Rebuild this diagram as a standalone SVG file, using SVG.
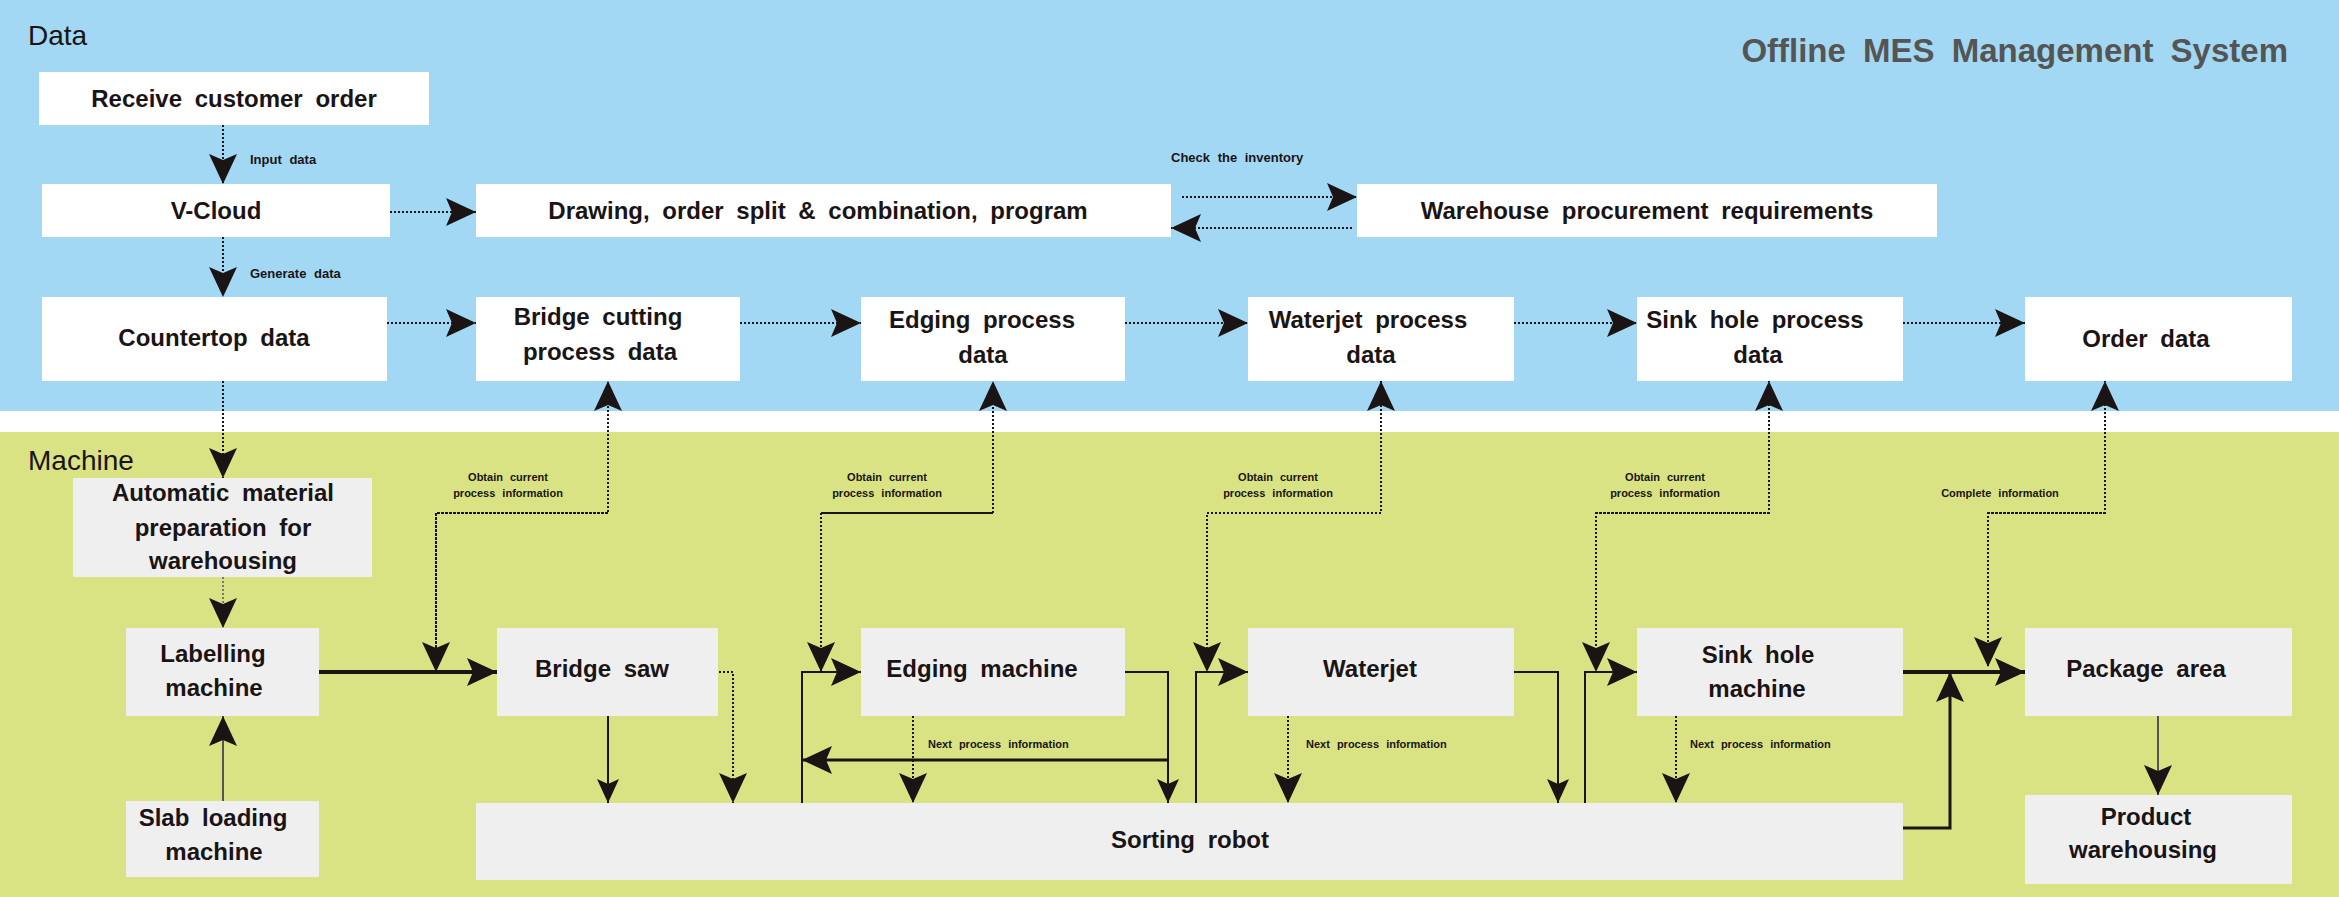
<svg xmlns="http://www.w3.org/2000/svg" width="2339" height="897" viewBox="0 0 2339 897">
<style>
.d{fill:#fff}.m{fill:#efefef}
text{font-family:"Liberation Sans",Arial,sans-serif;fill:#1a1414}
.t{font-size:24px;font-weight:bold;text-anchor:middle;word-spacing:6px}
.s{font-size:13px;font-weight:bold;word-spacing:4px}
.xs{font-size:11px;font-weight:bold;text-anchor:middle;word-spacing:4px}
.dot{fill:none;stroke:#1a1414;stroke-width:2;stroke-dasharray:2 2}
.sol{fill:none;stroke:#1a1414;stroke-width:2}
.thk{fill:none;stroke:#1a1414;stroke-width:4}
.gr{fill:none;stroke:#555;stroke-width:2}
</style>
<defs>
<marker id="a" markerUnits="userSpaceOnUse" markerWidth="30" markerHeight="28" refX="30" refY="14" orient="auto"><path d="M0,0L30,14L0,28L6,14Z" fill="#1a1414"/></marker>
<marker id="b" markerUnits="userSpaceOnUse" markerWidth="24" markerHeight="22" refX="24" refY="11" orient="auto"><path d="M0,0L24,11L0,22L5,11Z" fill="#1a1414"/></marker>
</defs>
<rect x="0" y="0" width="2339" height="411" fill="#a2d8f4"/>
<rect x="0" y="432" width="2339" height="465" fill="#d9e383"/>
<text x="28" y="45" style="font-size:28px">Data</text>
<text x="28" y="470" style="font-size:28px">Machine</text>
<text x="2288" y="62" style="font-size:33px;font-weight:bold;fill:#555;text-anchor:end;word-spacing:8px">Offline MES Management System</text>

<g id="receive"><rect class="d" x="39" y="72" width="390" height="53"/><text class="t" x="234" y="107">Receive customer order</text></g>
<g id="vcloud"><rect class="d" x="42" y="184" width="348" height="53"/><text class="t" x="216" y="219">V-Cloud</text></g>
<g id="drawing"><rect class="d" x="476" y="184" width="695" height="53"/><text class="t" x="818" y="219">Drawing, order split &amp; combination, program</text></g>
<g id="warehouse"><rect class="d" x="1357" y="184" width="580" height="53"/><text class="t" x="1647" y="219">Warehouse procurement requirements</text></g>
<g id="countertop"><rect class="d" x="42" y="297" width="345" height="84"/><text class="t" x="214" y="346">Countertop data</text></g>
<g id="bridgedata"><rect class="d" x="476" y="297" width="264" height="84"/><text class="t" x="598" y="325">Bridge cutting</text><text class="t" x="600" y="360">process data</text></g>
<g id="edgingdata"><rect class="d" x="861" y="297" width="264" height="84"/><text class="t" x="982" y="328">Edging process</text><text class="t" x="983" y="363">data</text></g>
<g id="waterjetdata"><rect class="d" x="1248" y="297" width="266" height="84"/><text class="t" x="1368" y="328">Waterjet process</text><text class="t" x="1371" y="363">data</text></g>
<g id="sinkdata"><rect class="d" x="1637" y="297" width="266" height="84"/><text class="t" x="1755" y="328">Sink hole process</text><text class="t" x="1758" y="363">data</text></g>
<g id="orderdata"><rect class="d" x="2025" y="297" width="267" height="84"/><text class="t" x="2146" y="347">Order data</text></g>

<g id="automatic"><rect class="m" x="73" y="478" width="299" height="99"/><text class="t" x="223" y="501">Automatic material</text><text class="t" x="223" y="536">preparation for</text><text class="t" x="223" y="569">warehousing</text></g>
<g id="labelling"><rect class="m" x="126" y="628" width="193" height="88"/><text class="t" x="213" y="662">Labelling</text><text class="t" x="214" y="696">machine</text></g>
<g id="slab"><rect class="m" x="126" y="801" width="193" height="76"/><text class="t" x="213" y="826">Slab loading</text><text class="t" x="214" y="860">machine</text></g>
<g id="bridgesaw"><rect class="m" x="497" y="628" width="221" height="88"/><text class="t" x="602" y="677">Bridge saw</text></g>
<g id="edging"><rect class="m" x="861" y="628" width="264" height="88"/><text class="t" x="982" y="677">Edging machine</text></g>
<g id="waterjet"><rect class="m" x="1248" y="628" width="266" height="88"/><text class="t" x="1370" y="677">Waterjet</text></g>
<g id="sink"><rect class="m" x="1637" y="628" width="266" height="88"/><text class="t" x="1758" y="663">Sink hole</text><text class="t" x="1757" y="697">machine</text></g>
<g id="package"><rect class="m" x="2025" y="628" width="267" height="88"/><text class="t" x="2146" y="677">Package area</text></g>
<g id="product"><rect class="m" x="2025" y="795" width="267" height="89"/><text class="t" x="2146" y="825">Product</text><text class="t" x="2143" y="858">warehousing</text></g>
<g id="sorting"><rect class="m" x="476" y="803" width="1427" height="77"/><text class="t" x="1190" y="848">Sorting robot</text></g>

<g id="connectors">
<path class="dot" d="M223,125V184" marker-end="url(#a)"/>
<path class="dot" d="M223,237V297" marker-end="url(#a)"/>
<path class="dot" d="M390,212H476" marker-end="url(#a)"/>
<path class="dot" d="M1182,197H1357" marker-end="url(#a)"/>
<path class="dot" d="M1352,228H1171" marker-end="url(#a)"/>
<path class="dot" d="M387,323H476" marker-end="url(#a)"/>
<path class="dot" d="M740,323H861" marker-end="url(#a)"/>
<path class="dot" d="M1125,323H1248" marker-end="url(#a)"/>
<path class="dot" d="M1514,323H1637" marker-end="url(#a)"/>
<path class="dot" d="M1903,323H2025" marker-end="url(#a)"/>
<path class="dot" d="M223,381V478" marker-end="url(#a)"/>
<path class="dot" d="M223,577V628" style="stroke:#777" marker-end="url(#a)"/>
<path class="gr" d="M223,801V716" marker-end="url(#a)"/>
<path class="thk" d="M319,672H497" marker-end="url(#a)"/>
<path class="dot" d="M436,668V513H608V381" marker-end="url(#a)"/>
<path class="dot" d="M608,513H436V672" marker-end="url(#a)"/>
<path class="dot" d="M821,513H993V381" marker-end="url(#a)"/>
<path class="dot" d="M993,513H821V672" marker-end="url(#a)"/>
<path class="dot" d="M1207,513H1381V381" marker-end="url(#a)"/>
<path class="dot" d="M1381,513H1207V672" marker-end="url(#a)"/>
<path class="dot" d="M1596,513H1769V381" marker-end="url(#a)"/>
<path class="dot" d="M1769,513H1596V672" marker-end="url(#a)"/>
<path class="dot" d="M1988,513H2105V381" marker-end="url(#a)"/>
<path class="dot" d="M2105,513H1988V667" marker-end="url(#a)"/>
<path class="sol" d="M608,716V803" marker-end="url(#b)"/>
<path class="dot" d="M719,672H733V803" marker-end="url(#a)"/>
<path class="sol" d="M802,803V672H861" marker-end="url(#a)"/>
<path class="sol" d="M1125,672H1168V803" marker-end="url(#b)"/>
<path class="thk" d="M1168,760H802" style="stroke-width:3" marker-end="url(#a)"/>
<path class="dot" d="M913,716V803" marker-end="url(#a)"/>
<path class="sol" d="M1196,803V672H1248" marker-end="url(#a)"/>
<path class="sol" d="M1514,672H1558V803" marker-end="url(#b)"/>
<path class="dot" d="M1288,716V803" marker-end="url(#a)"/>
<path class="sol" d="M1585,803V672H1637" marker-end="url(#a)"/>
<path class="dot" d="M1676,716V803" marker-end="url(#a)"/>
<path class="thk" d="M1903,672H2025" marker-end="url(#a)"/>
<path class="thk" d="M1903,828H1950V672" style="stroke-width:3" marker-end="url(#a)"/>
<path class="gr" d="M2158,716V795" marker-end="url(#a)"/>
</g>
<g id="labels">
<text class="s" x="250" y="164">Input data</text>
<text class="s" x="250" y="278">Generate data</text>
<text class="s" x="1171" y="162">Check the inventory</text>
<text class="xs" x="508" y="481">Obtain current</text><text class="xs" x="508" y="497">process information</text>
<text class="xs" x="887" y="481">Obtain current</text><text class="xs" x="887" y="497">process information</text>
<text class="xs" x="1278" y="481">Obtain current</text><text class="xs" x="1278" y="497">process information</text>
<text class="xs" x="1665" y="481">Obtain current</text><text class="xs" x="1665" y="497">process information</text>
<text class="xs" x="2000" y="497">Complete information</text>
<text class="xs" x="928" y="748" style="text-anchor:start">Next process information</text>
<text class="xs" x="1306" y="748" style="text-anchor:start">Next process information</text>
<text class="xs" x="1690" y="748" style="text-anchor:start">Next process information</text>
</g>
</svg>
